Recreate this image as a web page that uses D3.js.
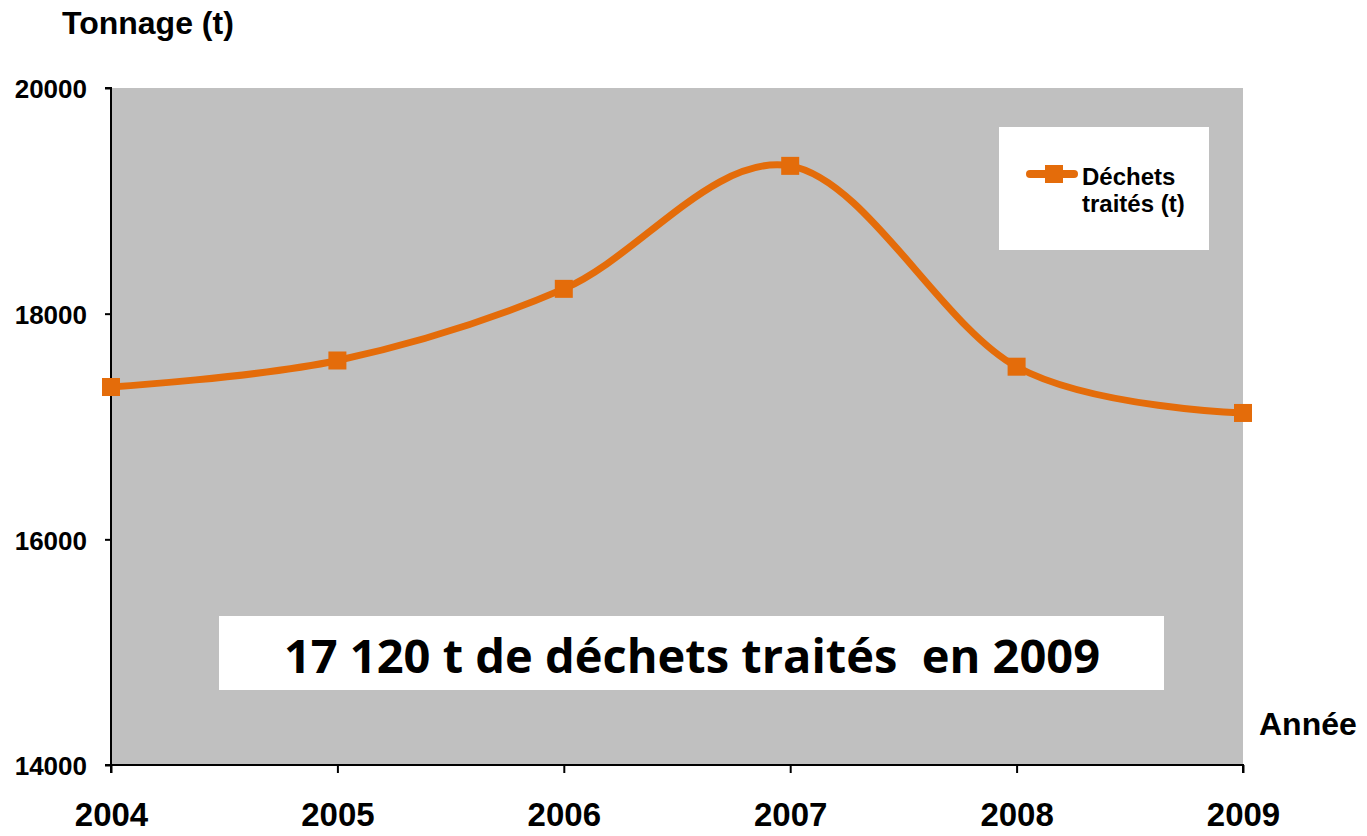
<!DOCTYPE html>
<html><head><meta charset="utf-8">
<script src="https://cdn.jsdelivr.net/npm/d3@7"></script>
<style>body{margin:0;background:#fff}svg{display:block}</style>
</head><body><svg id="c" width="1367" height="836"></svg>
<script>
const years = ["2004","2005","2006","2007","2008","2009"];
const values = [17350, 17585, 18220, 19310, 17530, 17120];
const yTicks = [14000, 16000, 18000, 20000];
const seriesName = ["Déchets", "traités (t)"];
const yTitle = "Tonnage (t)";
const xTitle = "Année";
const annotation = "17 120 t de déchets traités  en 2009";

const svg = d3.select("#c");
const L = 111, R = 1243, T = 88, B = 765;
const x = d3.scalePoint().domain(years).range([L, R]);
const y = d3.scaleLinear().domain([14000, 20000]).range([B, T]);
const orange = "#E46C0A";
const AR = "Liberation Sans, Arial, sans-serif";

svg.append("rect").attr("x", L).attr("y", T).attr("width", R - L).attr("height", B - T).attr("fill", "#C0C0C0");

// Axes
const ya = svg.append("g").attr("transform", `translate(${L},0)`)
  .call(d3.axisLeft(y).tickValues(yTicks).tickSize(6).tickPadding(18).tickFormat(d3.format("d")));
ya.select(".domain").attr("stroke", "#000").attr("stroke-width", 2).attr("d", `M-6,${T}H0V${B}H-6`);
ya.selectAll(".tick line").attr("stroke", "#000").attr("stroke-width", 2);
ya.selectAll(".tick text").attr("font-family", AR).attr("font-weight", "bold").attr("font-size", 26).attr("fill", "#000").attr("dy", "0.38em");

const xa = svg.append("g").attr("transform", `translate(0,${B})`)
  .call(d3.axisBottom(x).tickSize(8).tickPadding(30));
xa.select(".domain").attr("stroke", "#000").attr("stroke-width", 2).attr("d", `M${L},8V0H${R}V8`);
xa.selectAll(".tick line").attr("stroke", "#000").attr("stroke-width", 2);
xa.selectAll(".tick text").attr("font-family", AR).attr("font-weight", "bold").attr("font-size", 33).attr("fill", "#000");

// Titles
svg.append("text").attr("x", 62).attr("y", 34).text(yTitle)
  .attr("font-family", AR).attr("font-weight", "bold").attr("font-size", 32);
svg.append("text").attr("x", 1259).attr("y", 735).text(xTitle)
  .attr("font-family", AR).attr("font-weight", "bold").attr("font-size", 32);

// Line
const data = years.map((yr, i) => ({yr, v: values[i]}));
const line = d3.line().x(d => x(d.yr)).y(d => y(d.v)).curve(d3.curveCardinal.tension(0));
svg.append("path").datum(data).attr("d", line).attr("fill", "none")
  .attr("stroke", orange).attr("stroke-width", 7).attr("stroke-linecap", "round");
svg.selectAll(".m").data(data).enter().append("rect")
  .attr("x", d => x(d.yr) - 9).attr("y", d => y(d.v) - 9).attr("width", 18).attr("height", 18)
  .attr("fill", orange);

// Legend
svg.append("rect").attr("x", 999).attr("y", 127).attr("width", 210).attr("height", 123).attr("fill", "#fff");
svg.append("line").attr("x1", 1030).attr("x2", 1074).attr("y1", 174).attr("y2", 174)
  .attr("stroke", orange).attr("stroke-width", 8).attr("stroke-linecap", "round");
svg.append("rect").attr("x", 1045).attr("y", 165).attr("width", 18).attr("height", 18).attr("fill", orange);
svg.append("text").attr("x", 1082).attr("y", 185).text(seriesName[0])
  .attr("font-family", AR).attr("font-weight", "bold").attr("font-size", 24);
svg.append("text").attr("x", 1082).attr("y", 212).text(seriesName[1])
  .attr("font-family", AR).attr("font-weight", "bold").attr("font-size", 24);

// Annotation
svg.append("rect").attr("x", 219).attr("y", 616).attr("width", 945).attr("height", 74).attr("fill", "#fff");
svg.append("text").attr("x", 692).attr("y", 673).attr("text-anchor", "middle").text(annotation)
  .style("white-space", "pre").attr("xml:space", "preserve")
  .attr("font-family", "Open Sans, sans-serif").attr("font-weight", "bold").attr("font-size", 47);
</script></body></html>
